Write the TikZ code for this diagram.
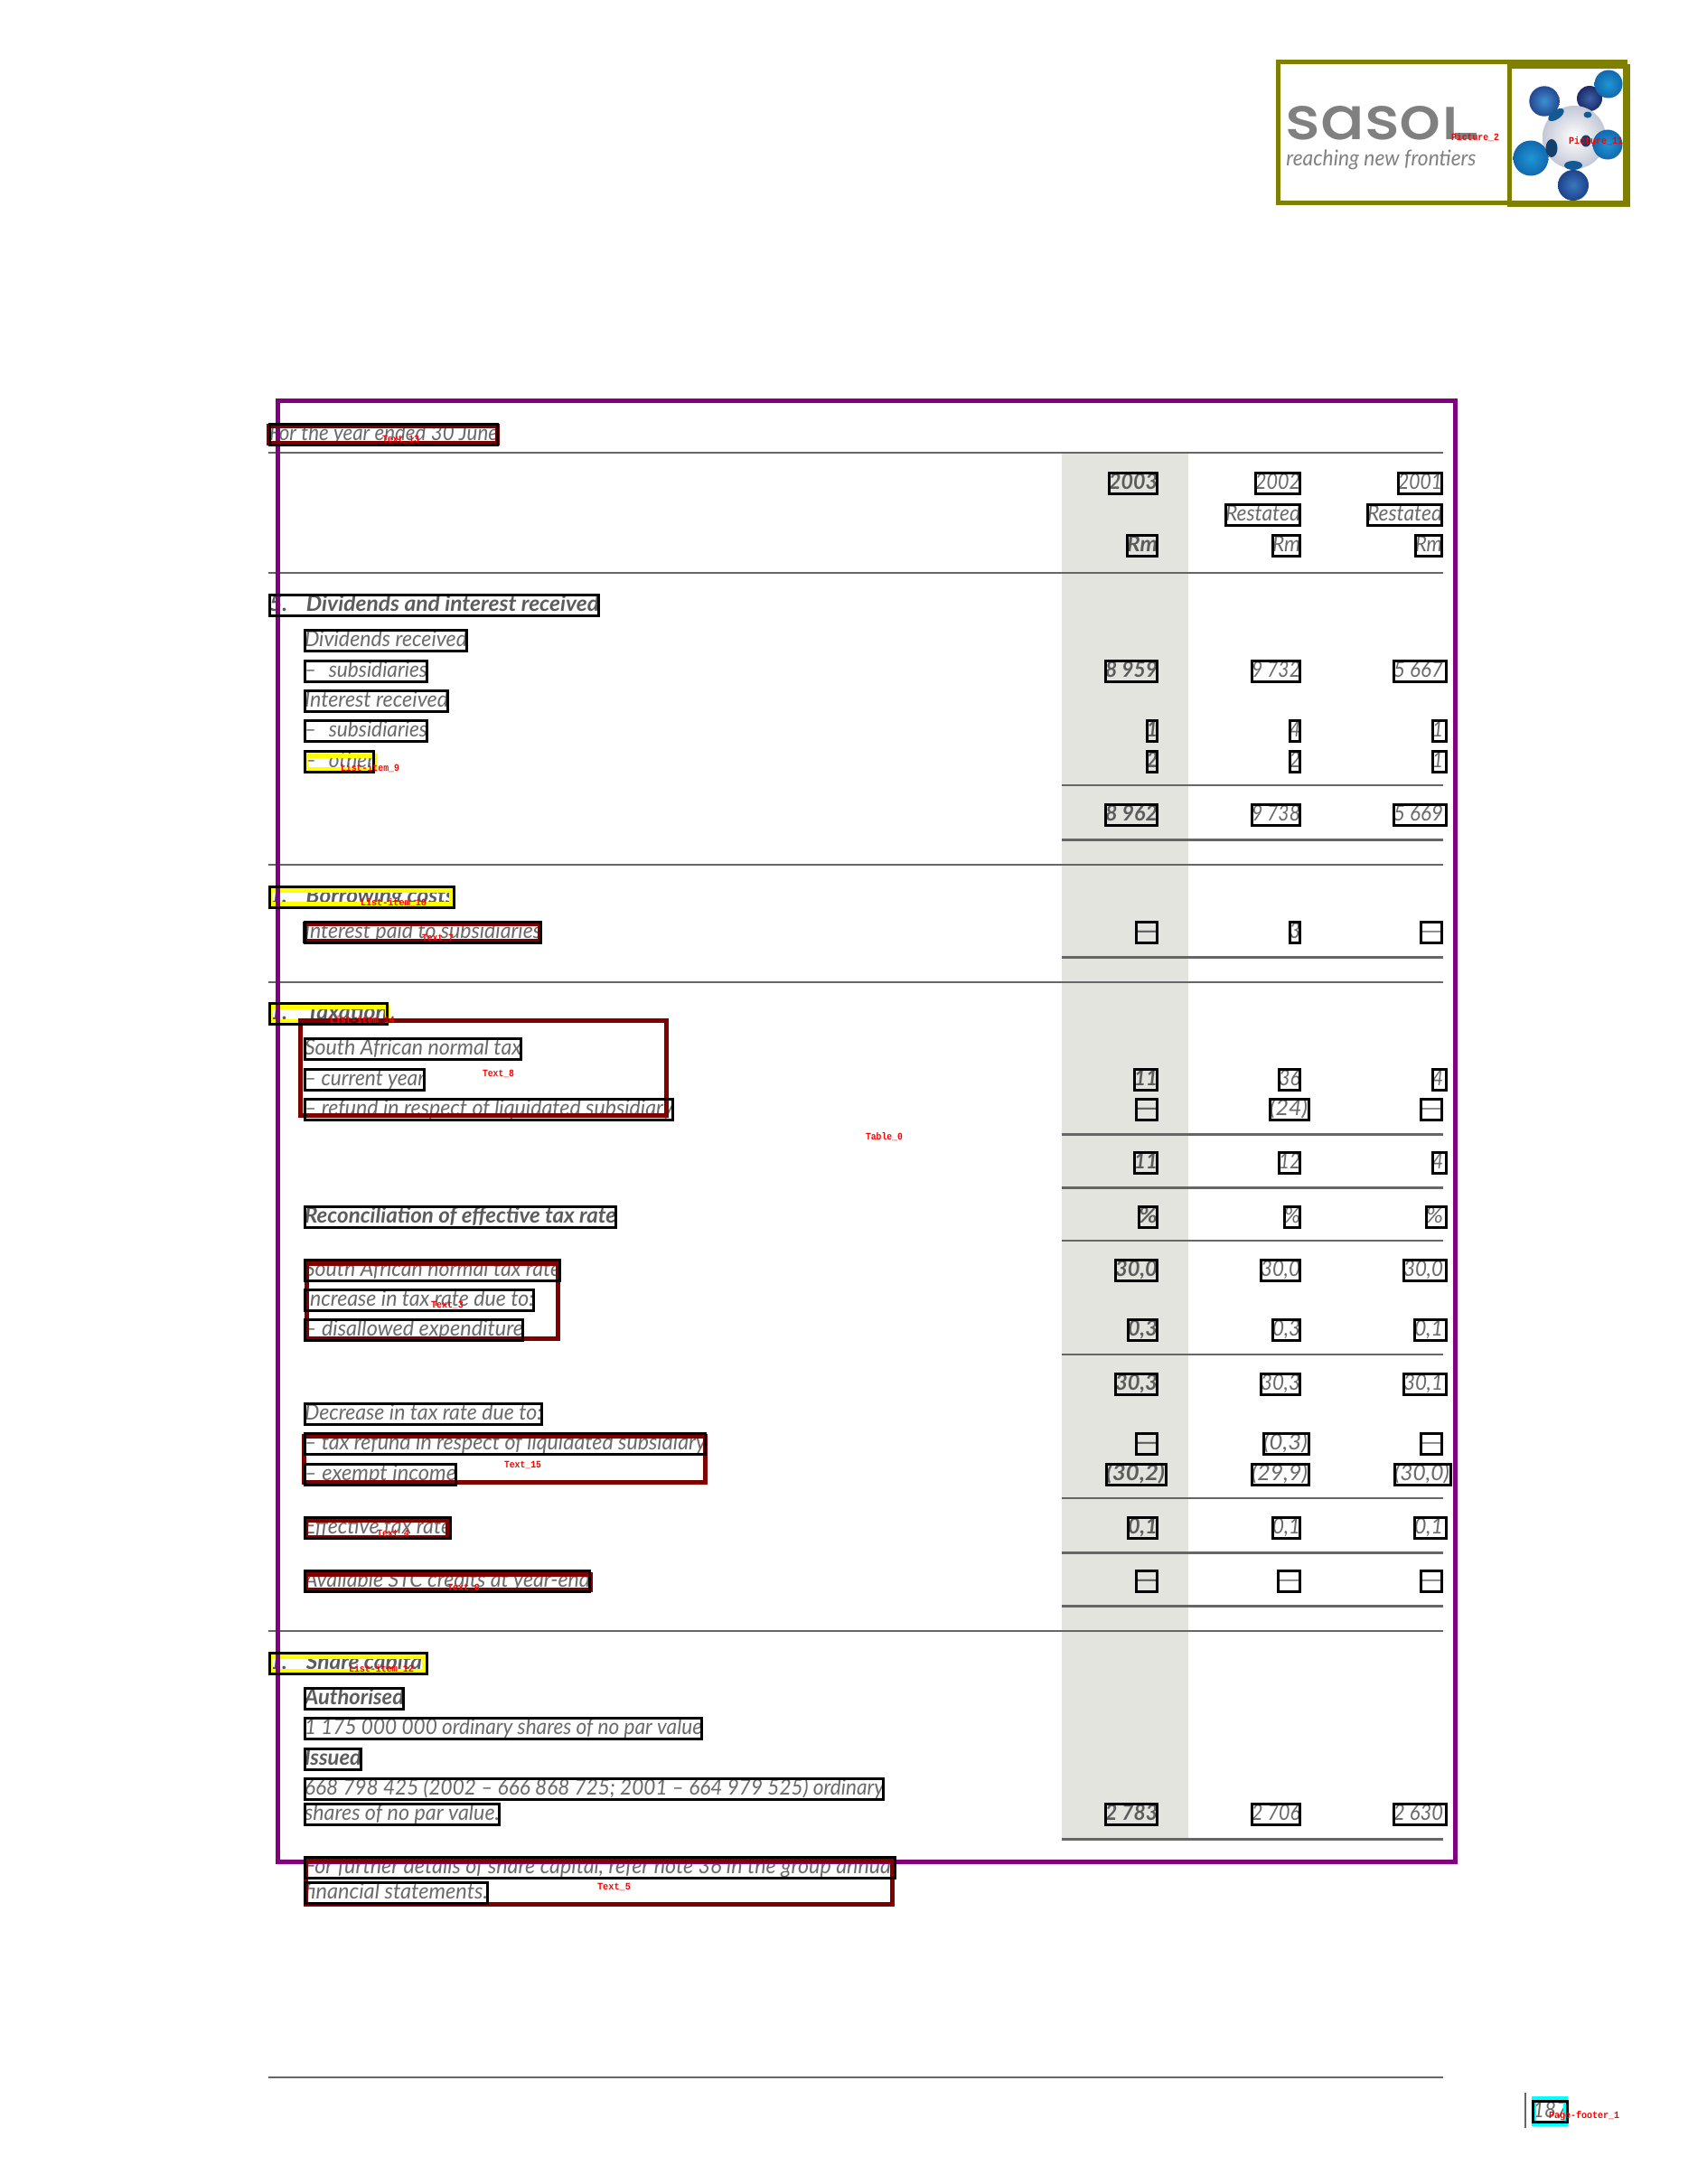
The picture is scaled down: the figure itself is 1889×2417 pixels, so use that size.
\documentclass[tikz,border=0pt]{standalone}
\usepackage{fontspec}
\usepackage{graphicx}
\newfontfamily\ltit{Lato Italic}
\newfontfamily\bdfam{Lato Black Italic}
\newfontfamily\bditfam{Lato Bold Italic}
\newcommand{\bdit}{\bditfam\color{boldgrey}}
\newfontfamily\markfont{Poppins Medium}
\newfontfamily\lblfont{Liberation Mono Bold}
\definecolor{inkgrey}{HTML}{6A6A6A}
\definecolor{boldgrey}{HTML}{5C5C5C}
\definecolor{rulegrey}{HTML}{666666}
\definecolor{bandgrey}{HTML}{E4E4DE}
\definecolor{tagred}{HTML}{800000}
\definecolor{tagpurple}{HTML}{800080}
\definecolor{tagolive}{HTML}{808000}
\definecolor{tagyellow}{HTML}{FFFF00}
\definecolor{tagcyan}{HTML}{00FFFF}
\definecolor{logogrey}{HTML}{808080}
\definecolor{ballAin}{HTML}{3E90D2}
\definecolor{ballAout}{HTML}{24488F}
\definecolor{ballNin}{HTML}{3B62A8}
\definecolor{ballNout}{HTML}{1E2A68}
\definecolor{ballLin}{HTML}{1E96D6}
\definecolor{ballLout}{HTML}{1268AE}
\definecolor{ballBin}{HTML}{3A78BE}
\definecolor{ballBout}{HTML}{1D438C}
\definecolor{holeblue}{HTML}{125A96}
\definecolor{holedark}{HTML}{14406E}
\definecolor{sphereedge}{HTML}{C4C8D6}
\pgfdeclarelayer{bandlayer}
\pgfdeclarelayer{txtlayer}
\pgfdeclarelayer{yellayer}
\pgfdeclarelayer{purplayer}
\pgfdeclarelayer{redlayer}
\pgfsetlayers{bandlayer,txtlayer,yellayer,purplayer,redlayer,main}
\tikzset{
  tabletext/.style={inner sep=0pt,outer sep=0pt,text=inkgrey,font=\fontsize{12}{14}\selectfont,anchor=base west},
  blackbox/.style={draw=black,line width=1.5pt,inner sep=0pt,outer sep=0pt},
  tagbox/.style={line width=2.5pt,inner sep=0pt,outer sep=0pt},
  taglabel/.style={inner sep=0pt,outer sep=0pt,text=red,anchor=west,font=\fontsize{5.5}{5.5}\selectfont\lblfont},
  thinrule/.style={draw=rulegrey,line width=0.75pt},
  midrule/.style={draw=rulegrey,line width=1.25pt},
  thickrule/.style={draw=rulegrey,line width=1.5pt},
}
% #1 right padding of text, #2 name, #3 x1, #4 x2, #5 y1, #6 font, #7 text
\newcommand{\tb}[7][1]{%
  \pgfmathsetlengthmacro\tbw{(#4-#3-1-#1)*0.5pt}%
  \begin{pgfonlayer}{txtlayer}
    \node[tabletext] (#2-t) at (#3+1,#5+19) {\resizebox{\tbw}{\height}{#6#7}};
  \end{pgfonlayer}
  \node[blackbox,minimum width={(#4-#3-3)*0.5pt},minimum height=11.5pt] (#2) at ({(#3+#4)/2},{#5+13}) {};
}
% #1 layer, #2 colour, #3 name, #4 x1, #5 y1, #6 x2, #7 y2
\newcommand{\cb}[7]{%
  \begin{pgfonlayer}{#1}
    \node[tagbox,draw=#2,minimum width={(#6-#4-5)*0.5pt},minimum height={(#7-#5-5)*0.5pt}] (#3) at ({(#4+#6)/2},{(#5+#7)/2}) {};
  \end{pgfonlayer}
}
% #1 name, #2 x1, #3 x2, #4 y, #5 text
\newcommand{\lb}[5]{%
  \pgfmathsetlengthmacro\lbw{(#3-#2)*0.5pt}%
  \node[taglabel] (#1) at (#2,#4) {\resizebox{\lbw}{\height}{#5}};
}
\begin{document}
\begin{tikzpicture}[x=0.5pt,y=-0.5pt]
\useasboundingbox (0,0) rectangle (1889,2417);
\begin{pgfonlayer}{bandlayer}
  \fill[white] (0,0) rectangle (1889,2417);
  \fill[bandgrey] (1175,502) rectangle (1315,2035);
  \foreach \yy in {957,1805} {\draw[thinrule] (297,\yy) -- (1597,\yy);}
  \draw[midrule] (297,501) -- (1597,501);
  \draw[midrule] (297,634) -- (1597,634);
  \draw[midrule] (297,1087) -- (1597,1087);
  \draw[midrule] (297,2299) -- (1597,2299);
  \foreach \yy in {869,1373,1499,1658} {\draw[thinrule] (1175,\yy) -- (1597,\yy);}
  \foreach \yy in {929,1059,1255,1314,1718,1777,2035} {\draw[thickrule] (1175,\yy) -- (1597,\yy);}
  \draw[draw=rulegrey,line width=1pt] (1688,2316) -- (1688,2355);
\end{pgfonlayer}

% logo
\begin{pgfonlayer}{txtlayer}
  \node[inner sep=0pt,anchor=base west,text=logogrey,font=\markfont\fontsize{12}{14}\selectfont] (wordmark) at (1422,154)
    {\resizebox{106pt}{18.5pt}{saso\scalebox{1}[0.73]{l}\kern-0.06em\rule{0.34em}{0.1em}}};
  \node[inner sep=0pt,anchor=base west,text=logogrey,font=\ltit\fontsize{12}{14}\selectfont] (strapline) at (1423,183)
    {\resizebox{105pt}{\height}{reaching new frontiers}};
  \shade[inner color=ballAin,outer color=ballAout] (1709,112) circle[radius=16.7];
  \shade[inner color=ballNin,outer color=ballNout] (1759,109) circle[radius=14];
  \shade[inner color=white,middle color=white,outer color=sphereedge] (1742,152) circle[radius=35];
  \shade[inner color=ballLin,outer color=ballLout] (1780,93) circle[radius=15.5];
  \shade[inner color=ballLin,outer color=ballLout] (1779,160) circle[radius=16.5];
  \shade[inner color=ballLin,outer color=ballLout] (1694,175) circle[radius=19.5];
  \shade[inner color=ballBin,outer color=ballBout] (1741,205) circle[radius=17];
  \fill[holeblue] (1741,183) ellipse[x radius=10,y radius=5];
  \fill[holeblue,rotate around={35:(1722,127)}] (1722,127) ellipse[x radius=10,y radius=5];
  \fill[holeblue] (1757,127) ellipse[x radius=4.5,y radius=3.5];
  \fill[holedark] (1755,156) ellipse[x radius=5.5,y radius=6.5];
  \fill[holedark] (1717,164) ellipse[x radius=6.5,y radius=10];
\end{pgfonlayer}
\cb{redlayer}{tagolive}{pic2}{1412}{66}{1801}{227}
\cb{redlayer}{tagolive}{pic11}{1668}{71}{1804}{229}
\begin{pgfonlayer}{redlayer}
  \fill[tagolive] (1668,66) rectangle (1801,76);
\end{pgfonlayer}

% tag boxes
\cb{purplayer}{tagpurple}{tablebox}{305}{441}{1613}{2063}
\cb{redlayer}{tagred}{r13}{295}{469}{553}{493}
\cb{yellayer}{tagyellow}{y9}{336}{834}{418}{854}
\cb{yellayer}{tagyellow}{y10}{297}{983}{502}{1003}
\cb{redlayer}{tagred}{r7}{335}{1020}{600}{1044}
\cb{yellayer}{tagyellow}{y14}{297}{1112}{431}{1133}
\cb{redlayer}{tagred}{r8}{330}{1127}{740}{1237}
\cb{redlayer}{tagred}{r3}{337}{1396}{620}{1484}
\cb{redlayer}{tagred}{r15}{334}{1587}{783}{1643}
\cb{redlayer}{tagred}{r4}{336}{1680}{498}{1704}
\cb{redlayer}{tagred}{r6}{336}{1740}{656}{1762}
\cb{yellayer}{tagyellow}{y12}{297}{1831}{472}{1852}
\cb{redlayer}{tagred}{r5}{336}{2057}{990}{2110}
\cb{redlayer}{tagcyan}{cy1}{1695}{2320}{1735}{2353}

% left column
\tb{ty}{297}{552}{468}{\ltit}{For the year ended 30 June}
\tb{h5}{297}{664}{657}{\bdit}{\makebox[20pt][l]{5.}Dividends and interest received}
\tb{a1}{336}{518}{696}{\ltit}{Dividends received}
\tb{a2}{336}{474}{730}{\ltit}{–\kern0.6em subsidiaries}
\tb{a3}{336}{497}{763}{\ltit}{Interest received}
\tb{a4}{336}{474}{796}{\ltit}{–\kern0.6em subsidiaries}
\tb{a5}{336}{415}{830}{\ltit}{–\kern0.6em other}
\tb{h6}{297}{504}{980}{\bdit}{\makebox[20pt][l]{1.}Borrowing costs}
\tb{b1}{336}{600}{1019}{\ltit}{Interest paid to subsidiaries}
\tb{h7}{297}{430}{1109}{\bdit}{\makebox[20pt][l]{1.}Taxation}
\tb{c1}{336}{578}{1148}{\ltit}{South African normal tax}
\tb{c2}{336}{471}{1182}{\ltit}{– current year}
\tb{c3}{336}{746}{1215}{\ltit}{– refund in respect of liquidated subsidiary}
\tb{c4}{336}{683}{1334}{\bdit}{Reconciliation of effective tax rate}
\tb{c5}{336}{621}{1393}{\ltit}{South African normal tax rate}
\tb{c6}{336}{592}{1426}{\ltit}{Increase in tax rate due to:}
\tb{c7}{336}{580}{1459}{\ltit}{– disallowed expenditure}
\tb{c8}{336}{601}{1552}{\ltit}{Decrease in tax rate due to:}
\tb{c9}{336}{782}{1585}{\ltit}{– tax refund in respect of liquidated subsidiary}
\tb{c10}{336}{506}{1619}{\ltit}{– exempt income}
\tb{c11}{336}{500}{1678}{\ltit}{Effective tax rate}
\tb{c12}{336}{654}{1737}{\ltit}{Available STC credits at year-end}
\tb{h8}{297}{474}{1828}{\bdit}{\makebox[20pt][l]{1.}Share capital}
\tb{d1}{336}{448}{1867}{\bdit}{Authorised}
\tb{d2}{336}{778}{1900}{\ltit}{1 175 000 000 ordinary shares of no par value}
\tb{d3}{336}{401}{1934}{\bdit}{Issued}
\tb{d4}{336}{979}{1967}{\ltit}{668 798 425 (2002 – 666 868 725; 2001 – 664 979 525) ordinary}
\tb{d5}{336}{554}{1995}{\ltit}{shares of no par value.}
\tb{e1}{336}{992}{2054}{\ltit}{For further details of share capital, refer note 36 in the group annual}
\tb{e2}{336}{541}{2082}{\ltit}{financial statements.}

% header figures
\tb{y1}{1226}{1282}{522}{\bdit}{2003}
\tb{y2}{1388}{1440}{522}{\ltit}{2002}
\tb{y3}{1546}{1597}{522}{\ltit}{2001}
\tb{s2}{1355}{1440}{557}{\ltit}{Restated}
\tb{s3}{1512}{1597}{557}{\ltit}{Restated}
\tb{m1}{1246}{1282}{591}{\bdit}{Rm}
\tb{m2}{1407}{1440}{591}{\ltit}{Rm}
\tb{m3}{1565}{1597}{591}{\ltit}{Rm}
% note 5
\tb{f1}{1222}{1282}{730}{\bdit}{8 959}
\tb{f2}{1384}{1440}{730}{\ltit}{9 732}
\tb[5]{f3}{1541}{1602}{730}{\ltit}{5 667}
\tb{g1}{1268}{1282}{796}{\bdit}{1}
\tb{g2}{1426}{1440}{796}{\ltit}{4}
\tb[5]{g3}{1584}{1602}{796}{\ltit}{1}
\tb{k1}{1268}{1282}{830}{\bdit}{2}
\tb{k2}{1426}{1440}{830}{\ltit}{2}
\tb[5]{k3}{1584}{1602}{830}{\ltit}{1}
\tb{n1}{1222}{1282}{889}{\bdit}{8 962}
\tb{n2}{1384}{1440}{889}{\ltit}{9 738}
\tb[5]{n3}{1541}{1602}{889}{\ltit}{5 669}
% note 6
\tb{p1}{1256}{1282}{1019}{\bdit}{—}
\tb{p2}{1426}{1440}{1019}{\ltit}{3}
\tb{p3}{1571}{1597}{1019}{\ltit}{—}
% note 7
\tb{q1}{1254}{1282}{1182}{\bdit}{11}
\tb{q2}{1414}{1440}{1182}{\ltit}{36}
\tb[5]{q3}{1584}{1602}{1182}{\ltit}{4}
\tb{u1}{1256}{1282}{1215}{\bdit}{—}
\tb[3]{u2}{1404}{1450}{1215}{\ltit}{(24)}
\tb{u3}{1571}{1597}{1215}{\ltit}{—}
\tb{v1}{1254}{1282}{1274}{\bdit}{11}
\tb{v2}{1414}{1440}{1274}{\ltit}{12}
\tb[5]{v3}{1584}{1602}{1274}{\ltit}{4}
\tb{w1}{1259}{1282}{1334}{\bdit}{\%}
\tb{w2}{1420}{1440}{1334}{\ltit}{\%}
\tb[5]{w3}{1577}{1602}{1334}{\ltit}{\%}
\tb{aa1}{1233}{1282}{1393}{\bdit}{30,0}
\tb{aa2}{1394}{1440}{1393}{\ltit}{30,0}
\tb[5]{aa3}{1552}{1602}{1393}{\ltit}{30,0}
\tb{ab1}{1247}{1282}{1459}{\bdit}{0,3}
\tb{ab2}{1407}{1440}{1459}{\ltit}{0,3}
\tb[5]{ab3}{1564}{1602}{1459}{\ltit}{0,1}
\tb{ac1}{1233}{1282}{1519}{\bdit}{30,3}
\tb{ac2}{1394}{1440}{1519}{\ltit}{30,3}
\tb[5]{ac3}{1552}{1602}{1519}{\ltit}{30,1}
\tb{ad1}{1256}{1282}{1585}{\bdit}{—}
\tb[3]{ad2}{1397}{1450}{1585}{\ltit}{(0,3)}
\tb{ad3}{1571}{1597}{1585}{\ltit}{—}
\tb[3]{ae1}{1223}{1292}{1619}{\bdit}{(30,2)}
\tb[3]{ae2}{1384}{1450}{1619}{\ltit}{(29,9)}
\tb[3]{ae3}{1542}{1607}{1619}{\ltit}{(30,0)}
\tb{af1}{1247}{1282}{1678}{\bdit}{0,1}
\tb{af2}{1407}{1440}{1678}{\ltit}{0,1}
\tb[5]{af3}{1564}{1602}{1678}{\ltit}{0,1}
\tb{ag1}{1256}{1282}{1737}{\bdit}{—}
\tb{ag2}{1413}{1440}{1737}{\ltit}{—}
\tb{ag3}{1571}{1597}{1737}{\ltit}{—}
% note 8
\tb{ah1}{1222}{1282}{1995}{\bdit}{2 783}
\tb{ah2}{1384}{1440}{1995}{\ltit}{2 706}
\tb[5]{ah3}{1541}{1602}{1995}{\ltit}{2 630}
% page number
\tb{pg}{1695}{1736}{2324}{\ltit}{187}

% red tag labels
\lb{l1}{1606}{1659}{152}{Picture\_2}
\lb{l2}{1736}{1796}{156}{Picture\_11}
\lb{l3}{423}{464}{486}{Text\_13}
\lb{l4}{377}{442}{850}{List-item\_9}
\lb{l5}{399}{472}{999}{List-item\_10}
\lb{l6}{467}{502}{1038}{Text\_7}
\lb{l7}{365}{437}{1129}{List-item\_14}
\lb{l8}{534}{569}{1188}{Text\_8}
\lb{l9}{958}{999}{1258}{Table\_0}
\lb{l10}{477}{513}{1444}{Text\_3}
\lb{l11}{558}{599}{1621}{Text\_15}
\lb{l12}{417}{453}{1697}{Text\_4}
\lb{l13}{495}{531}{1757}{Text\_6}
\lb{l14}{386}{458}{1847}{List-item\_12}
\lb{l15}{661}{698}{2088}{Text\_5}
\lb{l16}{1714}{1792}{2342}{Page-footer\_1}
\end{tikzpicture}
\end{document}
